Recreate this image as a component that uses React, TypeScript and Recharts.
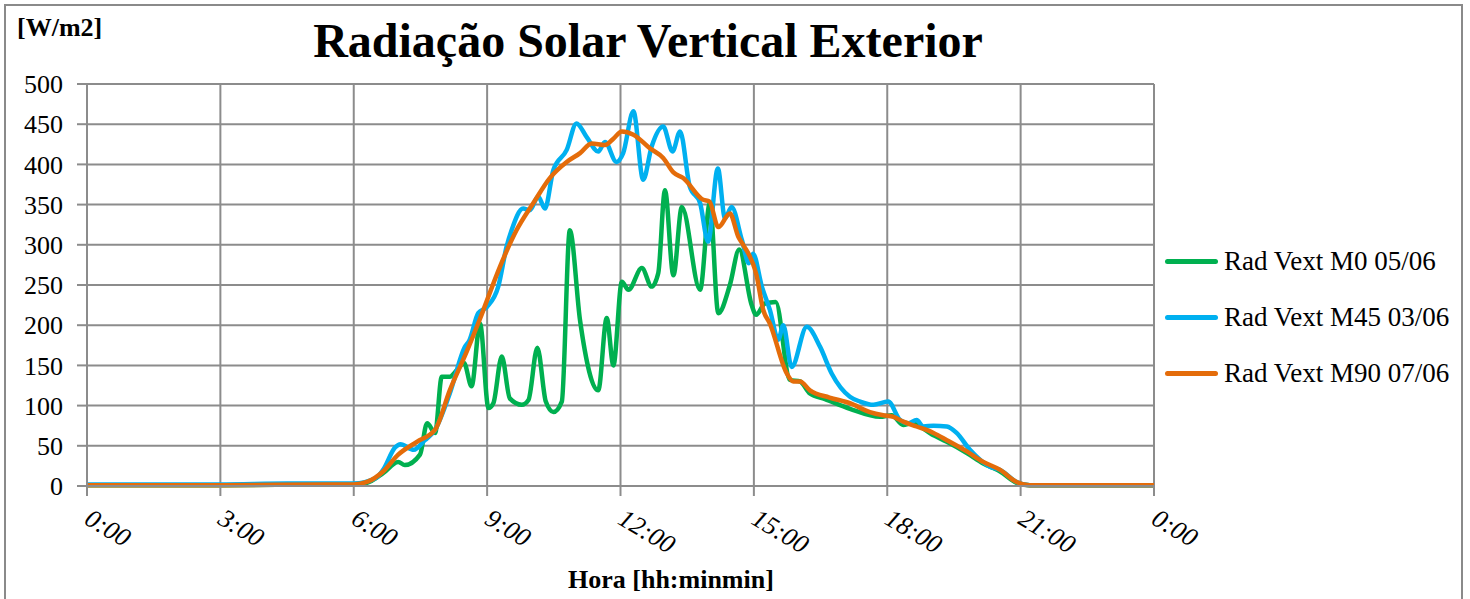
import { CartesianGrid, Line, LineChart, XAxis, YAxis } from "recharts";

// hora decimal, W/m2
const m0Points: [number, number][] = [
  [0, 1], [3, 1], [5.5, 2], [6, 2], [6.3, 4], [6.66, 16], [7.0, 30], [7.15, 26], [7.49, 39],
  [7.65, 78], [7.83, 66], [7.98, 136], [8.16, 136], [8.32, 144], [8.48, 153], [8.65, 124],
  [8.84, 202], [9.03, 97], [9.14, 103], [9.33, 161], [9.51, 109], [9.78, 101], [9.93, 107],
  [10.13, 172], [10.32, 105], [10.49, 92], [10.68, 105], [10.86, 318], [11.09, 206], [11.5, 119],
  [11.69, 209], [11.84, 150], [12.03, 254], [12.18, 244], [12.48, 271], [12.7, 248], [12.85, 265],
  [13.0, 368], [13.19, 262], [13.38, 347], [13.79, 244], [14.01, 352], [14.2, 215], [14.46, 250],
  [14.67, 294], [14.95, 225], [15.05, 213], [15.25, 227], [15.49, 229], [15.81, 132], [16.04, 130],
  [16.26, 115], [16.6, 108], [17.16, 96], [17.84, 86], [18.1, 88], [18.36, 76], [18.55, 78],
  [19.04, 63], [19.34, 55], [19.79, 41], [20.16, 28], [20.54, 18], [20.91, 4], [21.2, 1], [22, 1], [24, 1],
];

const m45Points: [number, number][] = [
  [0, 2], [3, 2], [4.5, 3], [5.5, 3], [6, 3], [6.5, 10], [6.66, 20], [6.93, 48], [7.05, 52],
  [7.35, 45], [7.6, 57], [7.83, 70], [8.16, 115], [8.5, 173], [8.6, 181], [8.8, 215], [9.0, 223],
  [9.25, 248], [9.44, 298], [9.55, 318], [9.81, 345], [9.96, 343], [10.15, 360], [10.3, 345],
  [10.49, 393], [10.79, 418], [11.01, 451], [11.24, 434], [11.5, 416], [11.65, 428], [11.91, 403],
  [12.06, 414], [12.29, 466], [12.51, 381], [12.7, 422], [12.96, 447], [13.17, 416], [13.34, 441],
  [13.56, 372], [13.79, 352], [13.97, 304], [14.19, 395], [14.35, 333], [14.5, 347], [14.73, 306],
  [14.89, 277], [14.98, 289], [15.18, 248], [15.36, 219], [15.55, 182], [15.66, 200], [15.85, 148],
  [16.19, 198], [16.49, 173], [16.75, 140], [17.16, 111], [17.39, 105], [17.69, 101], [18.02, 105],
  [18.29, 82], [18.47, 78], [18.66, 82], [18.81, 74], [19.04, 75], [19.34, 74], [19.56, 66],
  [19.86, 45], [20.31, 24], [20.54, 20], [20.91, 5], [21.21, 1], [22, 1], [24, 1],
];

const m90Points: [number, number][] = [
  [0, 1], [3, 1], [5.5, 2], [6, 2], [6.3, 5], [6.66, 18], [7.0, 39], [7.42, 55], [7.83, 70],
  [8.16, 119], [8.54, 167], [8.84, 208], [9.29, 273], [9.66, 318], [10.04, 352], [10.41, 383],
  [10.79, 403], [11.09, 414], [11.35, 426], [11.65, 424], [11.84, 432], [12.03, 441], [12.29, 437],
  [12.66, 420], [12.96, 408], [13.19, 390], [13.41, 383], [13.86, 356], [14.0, 354], [14.2, 322],
  [14.46, 339], [14.65, 310], [14.76, 300], [15.06, 262], [15.21, 219], [15.36, 202], [15.74, 140],
  [15.89, 130], [16.04, 130], [16.26, 119], [16.7, 110], [17.16, 103], [17.61, 92], [17.91, 88],
  [18.14, 86], [18.36, 80], [18.66, 74], [19.04, 66], [19.34, 57], [19.79, 43], [20.16, 30],
  [20.54, 20], [20.91, 5], [21.2, 1], [22, 1], [24, 1],
];

const hourTicks = [0, 3, 6, 9, 12, 15, 18, 21, 24];
const valueTicks = [0, 50, 100, 150, 200, 250, 300, 350, 400, 450, 500];

const series = [
  { name: "Rad Vext M0 05/06", color: "#00B050", points: m0Points },
  { name: "Rad Vext M45 03/06", color: "#00B0F0", points: m45Points },
  { name: "Rad Vext M90 07/06", color: "#E46C0A", points: m90Points },
];

const FONT = "'Liberation Serif', 'Times New Roman', serif";
const GRID = "#8c8c8c";

const toRows = (pts: [number, number][]) => pts.map(([t, v]) => ({ t, v }));

function HourTick({ x, y, payload }: any) {
  const h = payload.value % 24;
  return (
    <g transform={`translate(${x - 4},${y + 25})`}>
      <text x={0} y={0} transform="rotate(31)" fontFamily={FONT} fontStyle="italic" fontSize={26} fill="#000" textAnchor="start">
        {`${h}:00`}
      </text>
    </g>
  );
}

// legenda fora do LineChart para não roubar espaço da área do gráfico
function LegendBox() {
  return (
    <div style={{ position: "absolute", left: 1165, top: 233, fontFamily: FONT, fontSize: 27, color: "#000" }}>
      {series.map((s) => (
        <div key={s.name} style={{ display: "flex", alignItems: "center", height: 56 }}>
          <span style={{ display: "inline-block", width: 53, height: 5, borderRadius: 3, background: s.color, marginRight: 6 }} />
          <span>{s.name}</span>
        </div>
      ))}
    </div>
  );
}

export default function App() {
  return (
    <div style={{ position: "fixed", left: 0, top: 0, width: 1470, height: 599, background: "#fff", overflow: "hidden" }}>
      <div style={{ position: "absolute", left: 4, top: 4, width: 1455, height: 620, border: "2px solid #8a8a8a" }} />
      <LineChart width={1470} height={599} margin={{ top: 84, right: 316, left: 0, bottom: 0 }} style={{ position: "absolute", left: 0, top: 0 }}>
        <CartesianGrid stroke={GRID} strokeWidth={2} />
        <XAxis
          type="number"
          dataKey="t"
          domain={[0, 24]}
          ticks={hourTicks}
          interval={0}
          height={113}
          stroke={GRID}
          strokeWidth={2}
          tickSize={10}
          tick={<HourTick />}
          allowDuplicatedCategory={false}
        />
        <YAxis
          type="number"
          domain={[0, 500]}
          ticks={valueTicks}
          interval={0}
          width={87}
          stroke={GRID}
          strokeWidth={2}
          tickSize={10}
          tickMargin={14}
          tick={{ fill: "#000", fontFamily: FONT, fontSize: 26 }}
        />
        {series.map((s) => (
          <Line
            key={s.name}
            data={toRows(s.points)}
            dataKey="v"
            name={s.name}
            type="monotone"
            stroke={s.color}
            strokeWidth={4.5}
            dot={false}
            activeDot={false}
            isAnimationActive={false}
          />
        ))}
      </LineChart>
      <div style={{ position: "absolute", left: 0, top: 13, width: 1296, textAlign: "center", fontFamily: FONT, fontWeight: "bold", fontSize: 48 }}>
        Radiação Solar Vertical Exterior
      </div>
      <div style={{ position: "absolute", left: 17, top: 13, fontFamily: FONT, fontWeight: "bold", fontSize: 26 }}>[W/m2]</div>
      <div style={{ position: "absolute", left: 568, top: 565, fontFamily: FONT, fontWeight: "bold", fontSize: 26 }}>Hora [hh:minmin]</div>
      <LegendBox />
    </div>
  );
}
